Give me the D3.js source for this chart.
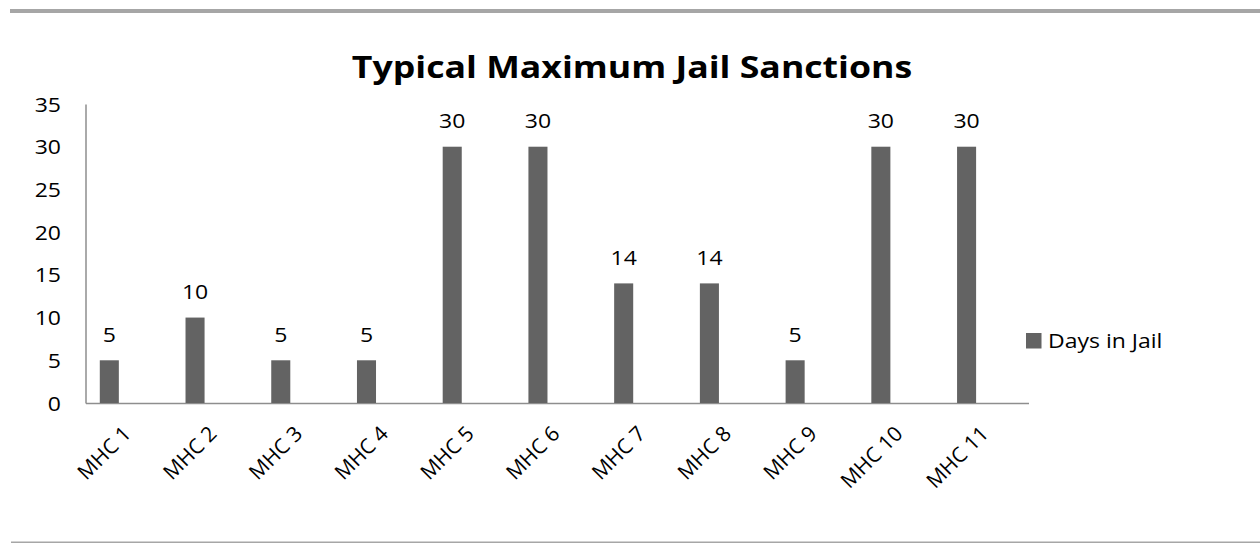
<!DOCTYPE html>
<html>
<head>
<meta charset="utf-8">
<script src="https://cdn.jsdelivr.net/npm/d3@7"></script>
<style>
  html, body { margin: 0; padding: 0; background: #fff; }
  svg { display: block; }
  text { font-family: "Open Sans", "DejaVu Sans", sans-serif; fill: #000; }
</style>
</head>
<body>
<svg id="chart" width="1260" height="544"></svg>
<script>
// ---- data ----
const categories = ["MHC 1","MHC 2","MHC 3","MHC 4","MHC 5","MHC 6","MHC 7","MHC 8","MHC 9","MHC 10","MHC 11"];
const daysInJail = [5, 10, 5, 5, 30, 30, 14, 14, 5, 30, 30];
const seriesName = "Days in Jail";
const seriesSlots = ["Days in Jail", "slot2", "slot3"]; // chart reserved 3 series slots per category
const yTicks = [0, 5, 10, 15, 20, 25, 30, 35];
const titleText = "Typical Maximum Jail Sanctions";

// ---- layout ----
const W = 1260, H = 544;
const plot = { left: 85.5, right: 1028.5, top: 104, bottom: 403 };
const SX = 1.15; // horizontal stretch of reference text
const barColor = "#636363";
const axisColor = "#8e8e8e";

const svg = d3.select("#chart");

// frame lines
svg.append("rect").attr("x", 10).attr("y", 9).attr("width", 1250).attr("height", 4).attr("fill", "#a6a6a6");
svg.append("rect").attr("x", 11).attr("y", 541.5).attr("width", 1249).attr("height", 1.5).attr("fill", "#a6a6a6");

const x = d3.scaleBand().domain(categories).range([plot.left, plot.right]).paddingInner(0).paddingOuter(0);
const xs = d3.scaleBand().domain(seriesSlots).range([0, x.bandwidth()]).paddingInner(0).paddingOuter(0.75);
const y = d3.scaleLinear().domain([0, 35]).range([plot.bottom, plot.top]);

function stretchText(sel, px, py) {
  sel.attr("transform", function(d, i) {
    const X = typeof px === "function" ? px(d, i) : px;
    const Y = typeof py === "function" ? py(d, i) : py;
    return `translate(${X},${Y}) scale(${SX},1)`;
  }).attr("x", 0).attr("y", 0);
}

// title
svg.append("text")
  .text(titleText)
  .attr("text-anchor", "middle")
  .attr("font-weight", "bold")
  .attr("font-size", 31)
  .call(stretchText, 632, 77.5);

// y axis
const yAxis = svg.append("g")
  .attr("transform", `translate(${plot.left},0)`)
  .call(d3.axisLeft(y).tickValues(yTicks).tickSize(0).tickPadding(0).tickFormat(d3.format("d")));
yAxis.select(".domain").attr("stroke", axisColor).attr("stroke-width", 1.5);
yAxis.selectAll(".tick text")
  .attr("font-size", 20)
  .attr("font-family", null)
  .attr("text-anchor", "end")
  .attr("dy", "0.35em")
  .each(function() {
    d3.select(this).attr("transform", `translate(${61 - plot.left},0) scale(${SX},1)`).attr("x", 0);
  });

// x axis
const xAxis = svg.append("g")
  .attr("transform", `translate(0,${plot.bottom})`)
  .call(d3.axisBottom(x).tickSize(0).tickPadding(0));
xAxis.select(".domain").attr("stroke", axisColor).attr("stroke-width", 1.5);
xAxis.selectAll(".tick text")
  .attr("font-size", 21)
  .attr("font-family", null)
  .attr("text-anchor", "end")
  .attr("dy", 0)
  .attr("y", 0)
  .attr("transform", "translate(4,32) rotate(-45)");

// bars
svg.append("g").selectAll("rect")
  .data(daysInJail)
  .join("rect")
  .attr("x", (d, i) => x(categories[i]) + xs(seriesName))
  .attr("width", xs.bandwidth())
  .attr("y", d => y(d))
  .attr("height", d => y(0) - y(d))
  .attr("fill", barColor);

// data labels
svg.append("g").selectAll("text")
  .data(daysInJail)
  .join("text")
  .text(d => d)
  .attr("font-size", 20)
  .attr("text-anchor", "middle")
  .call(stretchText, (d, i) => x(categories[i]) + xs(seriesName) + xs.bandwidth() / 2, d => y(d) - 18.5);

// legend
const lg = svg.append("g");
lg.append("rect").attr("x", 1026).attr("y", 333).attr("width", 15.5).attr("height", 15.5).attr("fill", barColor);
lg.append("text").text(seriesName).attr("font-size", 20).call(stretchText, 1048, 347.5);
</script>
</body>
</html>
